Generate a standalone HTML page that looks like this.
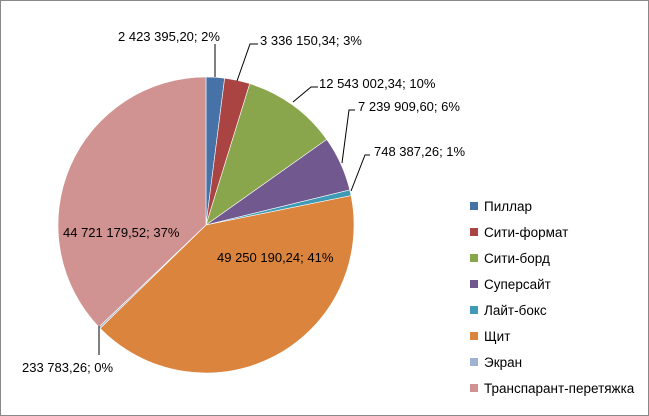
<!DOCTYPE html>
<html><head><meta charset="utf-8"><style>
html,body{margin:0;padding:0;background:#fff}
svg{display:block}
text{font-family:"Liberation Sans",sans-serif;font-size:13px;fill:#000}
#leg text{font-size:13.5px}
</style></head><body>
<svg id="s" width="649" height="416" viewBox="0 0 649 416">
<rect x="0.5" y="0.5" width="648" height="415" fill="#fff" stroke="#888" stroke-width="1"/>
<g id="pie"></g>
<g stroke="#000" stroke-width="1" fill="none">
<polyline points="215,77 215,44"/>
<polyline points="237,81 250,44 258,44"/>
<polyline points="293,102 311,87 318,87"/>
<polyline points="342,163 349,110 355,110"/>
<polyline points="351,191 365,155 370,155"/>
<polyline points="99,326 99,355"/>
</g>
<text x="118" y="41">2 423 395,20; 2%</text>
<text x="260" y="45">3 336 150,34; 3%</text>
<text x="319" y="88">12 543 002,34; 10%</text>
<text x="358" y="111">7 239 909,60; 6%</text>
<text x="374" y="156">748 387,26; 1%</text>
<text x="217" y="262">49 250 190,24; 41%</text>
<text x="63" y="237">44 721 179,52; 37%</text>
<text x="22" y="372">233 783,26; 0%</text>
<g id="leg"></g>
</svg>
<script>
var v=[2423395.2,3336150.34,12543002.34,7239909.6,748387.26,49250190.24,233783.26,44721179.52];
var c=["#4672a8","#a94442","#8aa64d","#71588f","#3f9bb5","#db843d","#9fb2d4","#d09391"];
var n=["Пиллар","Сити-формат","Сити-борд","Суперсайт","Лайт-бокс","Щит","Экран","Транспарант-перетяжка"];
var t=v.reduce(function(a,b){return a+b},0),cx=206,cy=225,r=148,a=0,h="";
for(var i=0;i<v.length;i++){var a2=a+v[i]/t*2*Math.PI;
var x1=cx+r*Math.sin(a),y1=cy-r*Math.cos(a),x2=cx+r*Math.sin(a2),y2=cy-r*Math.cos(a2);
h+='<path d="M'+cx+','+cy+'L'+x1+','+y1+'A'+r+','+r+' 0 '+(a2-a>Math.PI?1:0)+' 1 '+x2+','+y2+'Z" fill="'+c[i]+'" stroke="#fff" stroke-width="0.6"/>';a=a2;}
document.getElementById("pie").innerHTML=h;
var l="";for(var i=0;i<8;i++){var y=202+i*26;l+='<rect x="470" y="'+y+'" width="8" height="8" fill="'+c[i]+'"/><text x="484" y="'+(y+9)+'">'+n[i]+'</text>';}
document.getElementById("leg").innerHTML=l;
</script>
</body></html>
